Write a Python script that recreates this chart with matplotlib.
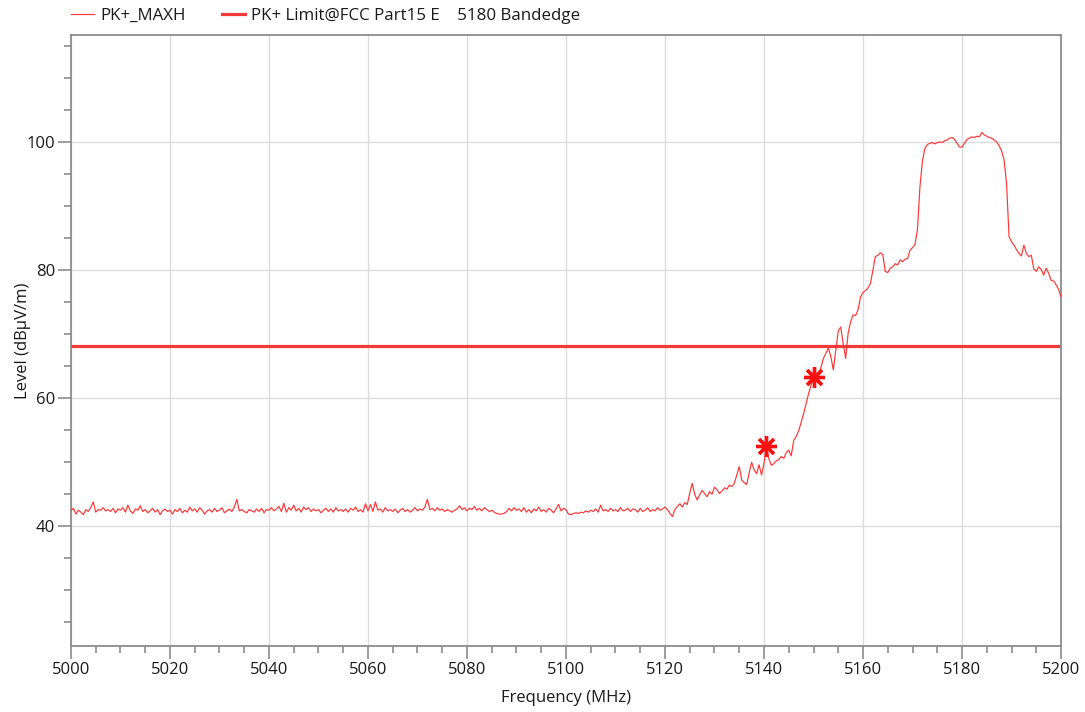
import numpy as np
import matplotlib
matplotlib.use("Agg")
import matplotlib.pyplot as plt
from matplotlib.ticker import MultipleLocator

plt.rcParams['font.family'] = ['Open Sans', 'DejaVu Sans']

# ---- data ----
f_start, f_stop = 5000.0, 5200.0   # MHz, 0.5 MHz sweep step

# noise floor 5000 .. 5113.5 MHz
level_noise = [
    42.4, 42.8, 41.9, 42.5, 42.2, 41.8, 42.6, 42.3, 42.9, 43.8,
    42.2, 42.6, 42.5, 42.9, 42.4, 42.6, 42.3, 42.8, 42.1, 42.7,
    42.5, 42.9, 42.2, 43.3, 42.4, 42.0, 42.7, 42.5, 43.2, 42.3,
    42.6, 42.1, 42.4, 42.8, 42.2, 42.6, 41.8, 42.4, 42.7, 42.3,
    42.5, 41.9, 42.6, 42.3, 42.8, 42.1, 42.5, 42.2, 43.0, 42.4,
    42.7, 42.2, 42.9, 42.5, 41.9, 42.4, 42.6, 42.2, 42.8, 42.3,
    42.5, 42.9, 42.1, 42.4, 42.7, 42.3, 43.0, 44.2, 42.4, 42.6,
    42.3, 42.1, 42.6, 42.4, 42.2, 42.7, 42.3, 42.8, 42.1, 42.6,
    42.5, 42.9, 42.4, 42.7, 43.1, 42.3, 43.6, 42.2, 42.9, 42.5,
    43.3, 42.4, 42.8, 42.2, 43.0, 42.6, 42.9, 42.3, 42.7, 42.4,
    42.6, 42.1, 42.5, 42.8, 42.3, 42.7, 42.2, 42.9, 42.4, 42.6,
    42.3, 42.7, 42.2, 42.8, 42.5, 43.0, 42.3, 42.6, 42.2, 43.5,
    42.4, 43.4, 42.3, 43.8, 42.5, 42.7, 42.2, 42.9, 42.4, 42.6,
    42.3, 42.7, 42.1, 42.5, 42.8, 42.3, 42.6, 42.2, 42.5, 42.9,
    42.4, 42.7, 42.5, 43.0, 44.2, 42.6, 42.8, 42.4, 42.9, 42.5,
    42.7, 42.3, 42.6, 42.4, 42.2, 42.5, 42.7, 43.2, 42.6, 42.9,
    42.4, 42.8, 42.6, 43.1, 42.5, 42.8, 42.4, 42.9, 42.6, 42.3,
    42.5, 42.2, 42.0, 41.9, 41.9, 42.0, 42.3, 42.8, 42.4, 42.9,
    42.5, 42.7, 42.3, 42.9, 42.2, 42.6, 42.1, 42.7, 42.4, 43.0,
    42.3, 42.6, 42.2, 42.8, 42.5, 42.1, 42.7, 43.4, 42.4, 42.8,
    42.6, 41.9, 41.8, 42.0, 42.1, 42.0, 42.2, 42.1, 42.4, 42.2,
    42.5, 42.3, 42.7, 42.2, 43.3, 42.4, 42.6, 42.3, 42.8, 42.4,
    42.6, 42.3, 42.9, 42.4, 42.5, 42.8, 42.3, 42.7,
]

# band edge skirt and carrier 5114 .. 5200 MHz
level_edge = [
    42.6, 42.2, 42.8, 42.3, 42.5, 42.9, 42.3, 42.6, 42.4, 42.9,
    42.5, 42.7, 43.0, 42.6, 42.0, 41.5, 42.6, 43.1, 43.5, 43.0,
    43.7, 43.4, 45.2, 46.7, 45.0, 44.1, 44.9, 45.6, 45.1, 44.6,
    45.4, 45.0, 46.1, 45.7, 45.1, 45.5, 46.0, 45.8, 46.4, 46.2,
    46.7, 48.0, 49.3, 47.2, 46.8, 46.5, 48.3, 50.0, 48.8, 48.2,
    49.6, 48.0, 49.8, 52.5, 50.5, 49.5, 49.8, 50.2, 50.4, 50.9,
    50.6, 51.5, 51.9, 51.0, 53.4, 54.0, 54.9, 56.2, 57.6, 59.1,
    60.7, 62.0, 63.3, 63.5, 63.6, 64.8, 66.2, 67.0, 67.8, 66.5,
    64.4, 67.5, 70.5, 71.1, 68.5, 66.2, 70.2, 71.9, 73.0, 72.9,
    73.8, 75.8, 76.5, 76.8, 77.2, 77.9, 80.0, 82.1, 82.3, 82.7,
    82.4, 79.8, 79.6, 80.3, 80.5, 81.0, 80.8, 81.6, 81.3, 81.7,
    81.8, 83.1, 83.5, 84.0, 86.3, 93.0, 97.0, 99.0, 99.6, 99.8,
    99.9, 99.7, 99.9, 100.0, 99.9, 100.2, 100.3, 100.6, 100.7, 100.4,
    99.8, 99.2, 99.2, 99.8, 100.4, 100.6, 100.8, 100.7, 100.9, 100.8,
    101.5, 101.1, 100.9, 100.7, 100.6, 100.3, 100.0, 99.4, 98.6, 97.2,
    93.5, 85.2, 84.4, 83.9, 83.2, 82.6, 82.2, 83.9, 82.6, 82.1,
    82.3, 80.2, 79.8, 80.5, 80.1, 79.2, 80.3, 79.5, 78.4, 78.3,
    77.7, 77.0, 75.8,
]

limit_level = 68.2            # dBuV/m
marker_freq = [5140.4, 5150.0]
marker_level = [52.5, 63.3]

trace_label = "PK+_MAXH"
limit_label = "PK+ Limit@FCC Part15 E    5180 Bandedge"
x_ticks = [5000, 5020, 5040, 5060, 5080, 5100, 5120, 5140, 5160, 5180, 5200]
y_ticks = [40, 60, 80, 100]

levels = np.array(level_noise + level_edge)
freqs = np.linspace(f_start, f_stop, len(levels))

# ---- plot ----
fig = plt.figure(figsize=(10.85, 7.12), dpi=100)
ax = fig.add_axes([0.0654, 0.0927, 0.9125, 0.8581])

ax.plot(freqs, levels, color='#ff3535', lw=0.85, label=trace_label, zorder=3)
ax.axhline(limit_level, color='#f23a3a', lw=2.3, label=limit_label, zorder=2)
ax.plot(marker_freq, marker_level, linestyle='none', marker=(8, 2, 0),
        markersize=15, markeredgewidth=2.4, color='#ff1010', zorder=4)

ax.set_xlim(f_start, f_stop)
ax.set_ylim(21.3, 116.7)
ax.set_xticks(x_ticks)
ax.set_yticks(y_ticks)
ax.xaxis.set_minor_locator(MultipleLocator(5))
ax.yaxis.set_minor_locator(MultipleLocator(5))

ax.grid(True, which='major', color='#dcdcdc', lw=1.0, zorder=0)
ax.set_axisbelow(True)
for s in ax.spines.values():
    s.set_color('#8c8c8c')
    s.set_linewidth(1.3)

ax.tick_params(which='major', length=9.5, width=1.2, color='#8c8c8c',
               labelsize=12, labelcolor='#1a1a1a', pad=2)
ax.tick_params(which='minor', length=5, width=1.2, color='#8c8c8c')

ax.set_xlabel("Frequency (MHz)", fontsize=12, color='#1a1a1a', labelpad=9)
ax.set_ylabel("Level (dBµV/m)", fontsize=12, color='#1a1a1a', labelpad=-3)

fig.legend(loc='upper left', bbox_to_anchor=(0.0655, 0.989), ncol=2,
           frameon=False, fontsize=12.2, handlelength=1.35, handletextpad=0.4,
           columnspacing=2.1, labelcolor='#1a1a1a', borderpad=0,
           borderaxespad=0)

fig.savefig("out.png", dpi=100)
